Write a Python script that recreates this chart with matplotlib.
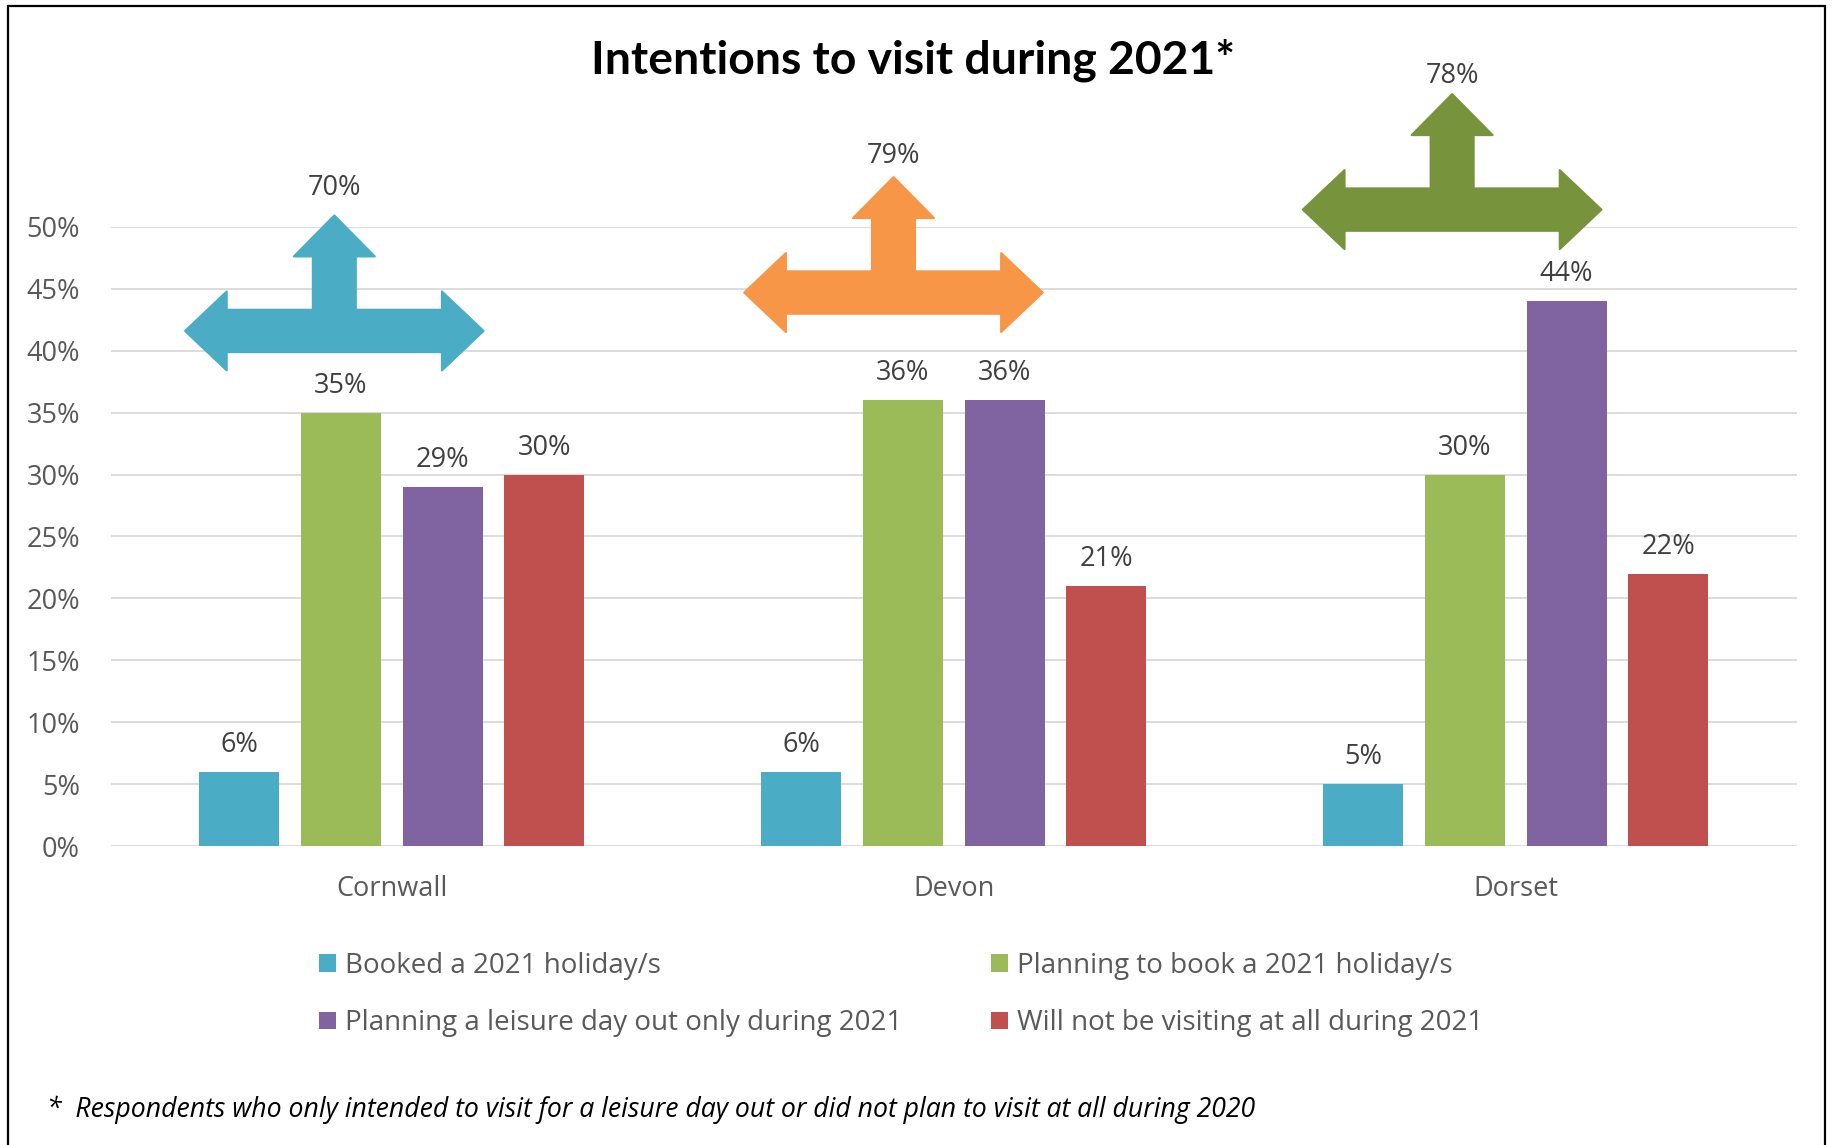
import matplotlib
matplotlib.use("Agg")
import matplotlib.pyplot as plt
import matplotlib.transforms as mtransforms
from matplotlib.patches import Polygon, Patch, Rectangle
import numpy as np

plt.rcParams['font.family'] = ['Open Sans', 'DejaVu Sans']

# ---- data ----
regions = ["Cornwall", "Devon", "Dorset"]
series_names = ["Booked a 2021 holiday/s",
                "Planning to book a 2021 holiday/s",
                "Planning a leisure day out only during 2021",
                "Will not be visiting at all during 2021"]
booked = [6, 6, 5]
planning_book = [35, 36, 30]
leisure_day = [29, 36, 44]
not_visiting = [30, 21, 22]
intend_totals = [70, 79, 78]
yticks = [0, 5, 10, 15, 20, 25, 30, 35, 40, 45, 50]

# ---- styles / layout ----
series_values = [booked, planning_book, leisure_day, not_visiting]
series_colors = ["#4BACC6", "#9BBB59", "#8064A2", "#C0504D"]
arrow_colors = ["#4BACC6", "#F79646", "#77933C"]
arrow_y = [41.6, 44.7, 51.4]
arrow_dx = [-0.102, -0.107, -0.113]
arrow_label_px = [142.5, 136.5, 134.0]

fig = plt.figure(figsize=(18.35, 11.45), dpi=100)
ax = fig.add_axes([0.0603, 0.2611, 0.9188, 0.5407])

x = np.arange(len(regions))
step = 0.1811
width = 0.1423
for i, (vals, col) in enumerate(zip(series_values, series_colors)):
    xs = x + (i - 1.5) * step
    ax.bar(xs, vals, width=width, color=col, zorder=3, label=series_names[i])
    for xi, v in zip(xs, vals):
        ax.annotate(f"{v}%", (xi, v), xytext=(0, 19.3), textcoords='offset points',
                    ha='center', va='center', fontsize=19.5, color='#404040')

ax.set_xlim(-0.5, 2.5)
ax.set_ylim(0, 50)
ax.set_yticks(yticks)
ax.set_yticklabels([f"{t}%" for t in yticks])
ax.set_xticks(x)
ax.set_xticklabels(regions)
ax.tick_params(axis='y', length=0, pad=22, labelsize=19.5, labelcolor='#595959')
ax.tick_params(axis='x', length=0, pad=21, labelsize=19.5, labelcolor='#595959')
for s in ax.spines.values():
    s.set_visible(False)
ax.grid(axis='y', color='#D9D9D9', linewidth=1.3, zorder=0)
ax.set_axisbelow(True)

# three-way arrows (shape in pixels, placed at data position)
W, L, H, T, S = 149.3, 41.7, 39.5, 21.2, 21.5
SB, UT, UH = 74.5, 115.5, 40.5
shape_px = [(-W, 0), (-W + L, H), (-W + L, T), (-S, T), (-S, SB), (-UH, SB), (0, UT),
            (UH, SB), (S, SB), (S, T), (W - L, T), (W - L, H), (W, 0),
            (W - L, -H), (W - L, -T), (-W + L, -T), (-W + L, -H)]
shape_in = np.array(shape_px) / 100.0
for xi, ay, dx, col, tot, lp in zip(x, arrow_y, arrow_dx, arrow_colors, intend_totals, arrow_label_px):
    trans = fig.dpi_scale_trans + mtransforms.ScaledTranslation(xi + dx, ay, ax.transData)
    poly = Polygon(shape_in, closed=True, facecolor=col, edgecolor=col, linewidth=1.5,
                   joinstyle='round', transform=trans, clip_on=False, zorder=5)
    ax.add_patch(poly)
    ax.annotate(f"{tot}%", (xi + dx, ay), xytext=(0, lp * 0.72), textcoords='offset points',
                ha='center', va='center', fontsize=19.5, color='#404040', annotation_clip=False)

fig.text(0.4978, 1 - 60 / 1145, "Intentions to visit during 2021*", ha='center', va='center',
         fontsize=33.3, fontweight='bold', color='black', family=['Lato', 'DejaVu Sans'])

handles = [Patch(facecolor=c) for c in series_colors]
order = [0, 2, 1, 3]
fig.legend([handles[i] for i in order], [series_names[i] for i in order], ncol=2,
           loc='upper left', bbox_to_anchor=(319 / 1835, 1 - 952 / 1145), frameon=False,
           fontsize=20, labelcolor='#595959', handlelength=0.6, handleheight=0.6,
           handletextpad=0.33, columnspacing=3.2, labelspacing=1.05, borderaxespad=0,
           borderpad=0)

fig.text(47 / 1835, 1 - 1109.5 / 1145,
         "*  Respondents who only intended to visit for a leisure day out or did not plan to visit at all during 2020",
         ha='left', va='center', fontsize=19.2, style='italic', color='black')

border = Rectangle((8 / 1835, -0.01), (1825 - 8) / 1835, 1.01 - 6 / 1145, transform=fig.transFigure,
                   fill=False, edgecolor='black', linewidth=1.6, clip_on=False)
fig.patches.append(border)

fig.savefig("out.png", dpi=100)
